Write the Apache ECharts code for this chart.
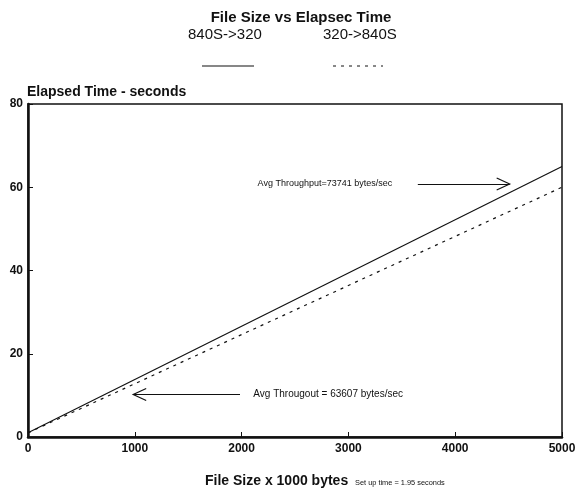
<!DOCTYPE html>
<html><head><meta charset="utf-8">
<script src="https://cdn.jsdelivr.net/npm/echarts@6/dist/echarts.min.js"></script>
<style>html,body{margin:0;padding:0;background:#fff}#c{width:580px;height:498px}</style>
</head><body><div id="c"></div>
<script>
const fileSizes = [0, 5000];
const series840to320 = [1, 65];
const series320to840 = [1, 60];
const xTicks = [0, 1000, 2000, 3000, 4000, 5000];
const yTicks = [0, 20, 40, 60, 80];
const seriesNames = ['840S->320', '320->840S'];
const note1 = {text: 'Avg Throughput=73741 bytes/sec', x: 2150, y: 60.8, arrowFrom: 3650, arrowTo: 4510};
const note2 = {text: 'Avg Througout = 63607 bytes/sec', x: 2110, y: 10.2, arrowFrom: 1985, arrowTo: 985};

const F = '"Liberation Sans", Arial, sans-serif';
const chart = echarts.init(document.getElementById('c'));
const opt = {
  animation: false,
  backgroundColor: '#fff',
  title: {text: 'File Size vs Elapsec Time', left: 296, textAlign: 'center', top: 5,
    textStyle: {fontFamily: F, fontSize: 15, fontWeight: 'bold', color: '#111'}},
  grid: {left: 28, right: 18, top: 104, bottom: 61, show: true, borderColor: '#111', borderWidth: 1.5, backgroundColor: 'transparent'},
  xAxis: {type: 'value', min: 0, max: 5000, interval: 1000,
    axisLine: {lineStyle: {color: '#111', width: 2.5}},
    axisTick: {inside: true, length: 5, lineStyle: {color: '#111'}},
    splitLine: {show: false},
    axisLabel: {fontFamily: F, fontWeight: 'bold', fontSize: 12, color: '#111', margin: 6,
      formatter: v => xTicks.includes(v) ? String(v) : ''}},
  yAxis: {type: 'value', min: 0, max: 80, interval: 20,
    axisLine: {show: true, lineStyle: {color: '#111', width: 2.5}},
    axisTick: {show: true, inside: true, length: 5, lineStyle: {color: '#111'}},
    splitLine: {show: false},
    axisLabel: {fontFamily: F, fontWeight: 'bold', fontSize: 12, color: '#111', margin: 5,
      formatter: v => yTicks.includes(v) ? String(v) : ''}},
  series: [
    {name: seriesNames[0], type: 'line', symbol: 'none', data: fileSizes.map((x, i) => [x, series840to320[i]]),
      lineStyle: {color: '#111', width: 1.2},
      markLine: {silent: true, symbol: ['none', 'none'],
        lineStyle: {color: '#111', width: 1.2, type: 'solid'}, label: {show: false},
        data: [[{coord: [note1.arrowFrom, note1.y]}, {coord: [note1.arrowTo, note1.y]}]]}},
    {name: seriesNames[1], type: 'line', symbol: 'none', data: fileSizes.map((x, i) => [x, series320to840[i]]),
      lineStyle: {color: '#111', width: 1.2, type: [3, 5]},
      markLine: {silent: true, symbol: ['none', 'none'],
        lineStyle: {color: '#111', width: 1.2, type: 'solid'}, label: {show: false},
        data: [[{coord: [note2.arrowFrom, note2.y]}, {coord: [note2.arrowTo, note2.y]}]]}}
  ]
};
chart.setOption(opt);
const p1 = chart.convertToPixel({gridIndex: 0}, [note1.x, note1.y]);
const p2 = chart.convertToPixel({gridIndex: 0}, [note2.x, note2.y]);
const t1 = chart.convertToPixel({gridIndex: 0}, [note1.arrowTo, note1.y]);
const t2 = chart.convertToPixel({gridIndex: 0}, [note2.arrowTo, note2.y]);
chart.setOption({graphic: [
  {type: 'text', left: 188, top: 27, style: {text: seriesNames[0], font: '15px ' + F, fill: '#111'}},
  {type: 'text', left: 323, top: 27, style: {text: seriesNames[1], font: '15px ' + F, fill: '#111'}},
  {type: 'line', shape: {x1: 202, y1: 66, x2: 254, y2: 66}, style: {stroke: '#111', lineWidth: 1.2}},
  {type: 'line', shape: {x1: 333, y1: 66, x2: 383, y2: 66}, style: {stroke: '#111', lineWidth: 1, lineDash: [3, 5]}},
  {type: 'text', left: 27, top: 85, style: {text: 'Elapsed Time - seconds', font: 'bold 14px ' + F, fill: '#111'}},
  {type: 'polyline', shape: {points: [[t1[0] - 13, t1[1] - 6], [t1[0], t1[1]], [t1[0] - 13, t1[1] + 6]]}, style: {stroke: '#111', lineWidth: 1.2, fill: null}},
  {type: 'polyline', shape: {points: [[t2[0] + 13, t2[1] - 6], [t2[0], t2[1]], [t2[0] + 13, t2[1] + 6]]}, style: {stroke: '#111', lineWidth: 1.2, fill: null}},
  {type: 'text', x: p1[0], y: p1[1], style: {text: note1.text, font: '9px ' + F, fill: '#111', verticalAlign: 'middle'}},
  {type: 'text', x: p2[0], y: p2[1], style: {text: note2.text, font: '10px ' + F, fill: '#111', verticalAlign: 'middle'}},
  {type: 'text', left: 205, top: 474, style: {text: 'File Size x 1000 bytes', font: 'bold 14px ' + F, fill: '#111'}},
  {type: 'text', left: 355, top: 479, style: {text: 'Set up time = 1.95 seconds', font: '7.4px ' + F, fill: '#111'}}
]});
</script></body></html>
